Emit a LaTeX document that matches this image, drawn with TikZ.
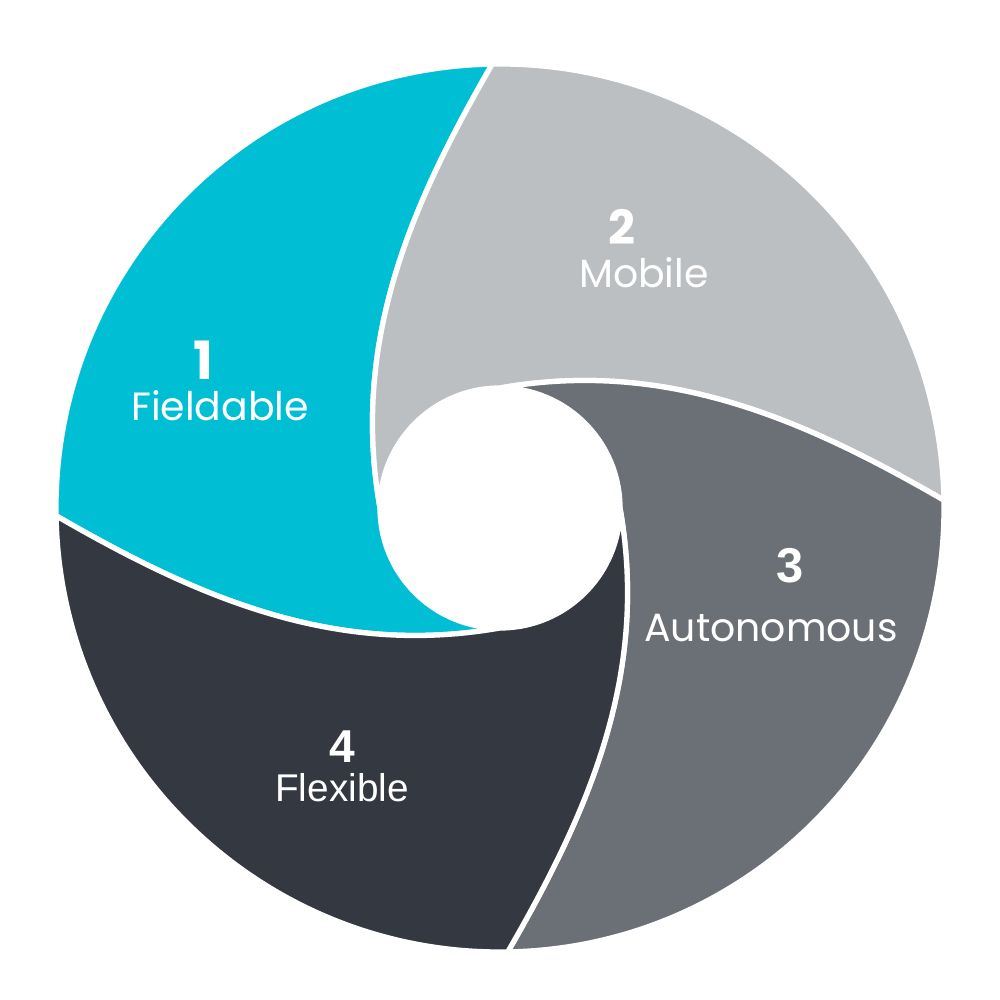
\documentclass[tikz,border=0pt]{standalone}
\usepackage{fontspec}
\setmainfont{Liberation Sans}
\newfontfamily\geofont{Poppins}
\definecolor{cyanseg}{RGB}{0,191,213}
\definecolor{lightseg}{RGB}{187,191,193}
\definecolor{midseg}{RGB}{107,112,118}
\definecolor{darkseg}{RGB}{52,57,65}
\tikzset{
  segment/.style={draw=white, line width=1.5pt, line join=round},
  numlabel/.style={text=white, anchor=base, inner sep=0pt},
  wordlabel/.style={text=white, anchor=base, inner sep=0pt}
}
\begin{document}
\begin{tikzpicture}[x=0.01cm,y=0.01cm]
\useasboundingbox (0,0) rectangle (1000,1000);
\begin{scope}[shift={(500,492)}]
  \foreach \rot/\col in {90/cyanseg, 0/lightseg, -90/midseg, 180/darkseg} {
    \path[segment, fill=\col, rotate=\rot]
      (1:444) arc[start angle=1, end angle=91, radius=444]
      .. controls +(240:160) and +(100:170) .. (180:120)
      arc[start angle=180, end angle=90, radius=120]
      .. controls +(10:170) and +(150:160) .. (1:444) -- cycle;
  }
\end{scope}
\node[numlabel, font=\geofont\bfseries\fontsize{15}{18}\selectfont] (n1) at (203,620) {1};
\node[wordlabel, font=\geofont\fontsize{11.2}{14}\selectfont] (w1) at (220,579) {Fieldable};
\node[numlabel, font=\geofont\bfseries\fontsize{13.4}{16}\selectfont] (n2) at (622,755) {2};
\node[wordlabel, font=\geofont\fontsize{11.2}{14}\selectfont] (w2) at (644,712) {Mobile};
\node[numlabel, font=\bfseries\fontsize{13.9}{16}\selectfont] (n3) at (790,417) {3};
\node[wordlabel, font=\geofont\fontsize{11.2}{14}\selectfont] (w3) at (771,358) {Autonomous};
\node[numlabel, font=\bfseries\fontsize{13.1}{16}\selectfont] (n4) at (342,237) {4};
\node[wordlabel, font=\fontsize{11}{14}\selectfont] (w4) at (342,198) {Flexible};
\end{tikzpicture}
\end{document}
